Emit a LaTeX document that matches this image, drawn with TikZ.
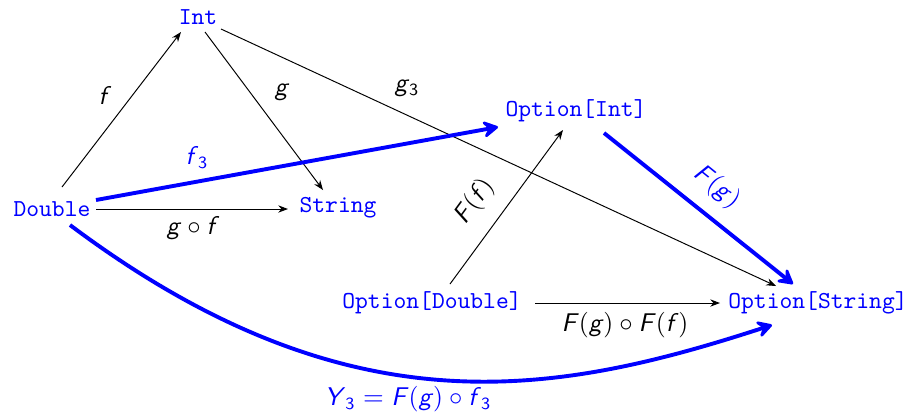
\documentclass[tikz,border=0pt]{standalone}
\usetikzlibrary{arrows.meta,calc}
\newcommand\sv[1]{\textsf{\textit{#1}}}
\newcommand\sub[1]{$_{\mathsf{#1}}$}
\newcommand\cmp{${}\circ{}$}
\definecolor{pblue}{RGB}{0,0,255}
\tikzset{
  obj/.style={text=pblue, font=\ttfamily, inner sep=1pt},
  lab/.style={inner sep=1pt, font=\fontsize{10.5}{12}\selectfont},
  thin arr/.style={-{Stealth[length=4pt,width=3pt]}, line width=0.4pt},
  blue arr/.style={-{Stealth[length=8pt,width=9pt,inset=3.5pt,round]}, draw=pblue, line width=1.6pt}
}
\begin{document}
\begin{tikzpicture}[x=0.41pt,y=-0.41pt]
\useasboundingbox (0,0) rectangle (908,414);
\node[obj] (int)  at (198,17)  {Int};
\node[obj] (dbl)  at (52,209)  {Double};
\node[obj] (str)  at (338,208) {String};
\node[obj] (oint) at (576,111) {Option[Int]};
\node[obj] (odbl) at (432,303) {Option[Double]};
\node[obj] (ostr) at (818,303) {Option[String]};

\draw[thin arr] ([shift={(10,-22)}]dbl.center) -- ([shift={(-17,15)}]int.center);
\draw[thin arr] ([shift={(7,15)}]int.center) -- ([shift={(-15,-18)}]str.center);
\draw[thin arr] ([shift={(23,12)}]int.center) -- ([shift={(-42,-17)}]ostr.center);
\draw[thin arr] ([shift={(44,0)}]dbl.center) -- ([shift={(-50,1)}]str.center);
\draw[thin arr] ([shift={(18,-19)}]odbl.center) -- ([shift={(-13,19)}]oint.center);
\draw[thin arr] ([shift={(103,0)}]odbl.center) -- ([shift={(-98,0)}]ostr.center);

\draw[blue arr] ([shift={(44,-9)}]dbl.center) -- ([shift={(-78,16)}]oint.center);
\draw[blue arr] ([shift={(28,22)}]oint.center) -- ([shift={(-25,-19)}]ostr.center);
\draw[blue arr] ([shift={(18,16)}]dbl.center) .. controls +(280,210) and +(-215,70) .. ([shift={(-46,22)}]ostr.center);

\node[lab] (lf)   at (105,95)  {\sv{f}};
\node[lab] (lg)   at (282,92)  {\sv{g}};
\node[lab] (lg3)  at (407,88)  {\sv{g}\sub{3}};
\node[lab, text=pblue] (lf3) at (197,157) {\sv{f}\sub{3}};
\node[lab] (lgf)  at (193,228) {\sv{g}\cmp\sv{f}};
\node[lab, rotate=54] (lFf) at (475,202) {\sv{F}(\sv{f})};
\node[lab, rotate=-39, text=pblue] (lFg) at (717,187) {\sv{F}(\sv{g})};
\node[lab] (lFgFf) at (625,325) {\sv{F}(\sv{g})\cmp\sv{F}(\sv{f})};
\node[lab, text=pblue] (lY) at (408,399) {\sv{Y}\sub{3}${}={}$\sv{F}(\sv{g})\cmp\sv{f}\sub{3}};
\end{tikzpicture}
\end{document}
